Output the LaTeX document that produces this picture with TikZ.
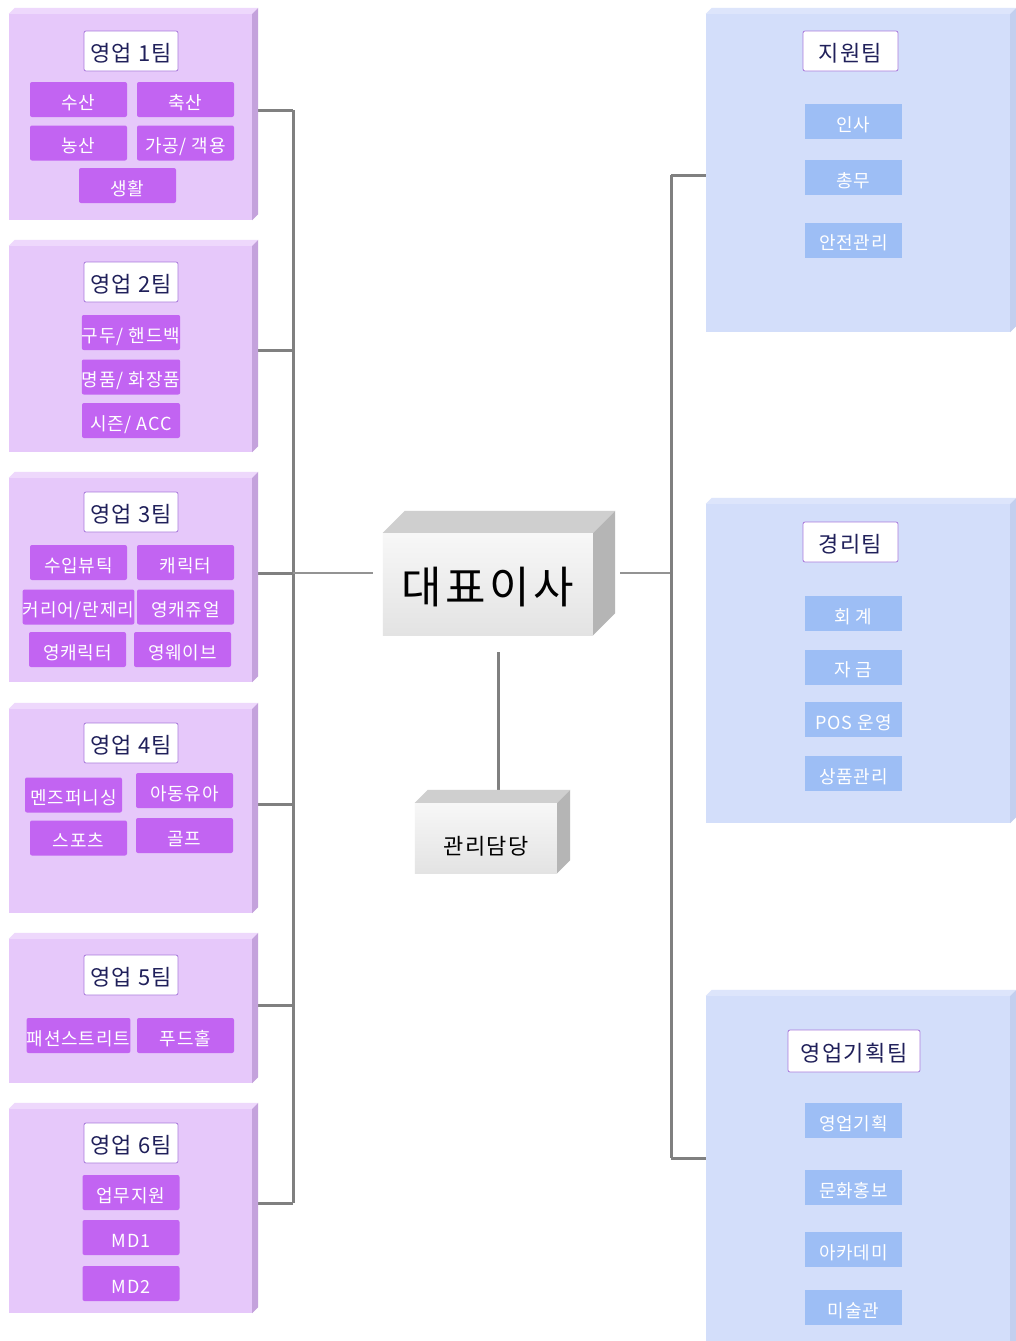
\documentclass[tikz,border=0pt]{standalone}
\usepackage{fontspec}
\setmainfont{Noto Sans CJK KR}
\definecolor{pfront}{HTML}{E6C8FA}
\definecolor{ptop}{HTML}{EED8FC}
\definecolor{pside}{HTML}{C4A2DC}
\definecolor{psub}{HTML}{C264F2}
\definecolor{bfront}{HTML}{D3DEFA}
\definecolor{btop}{HTML}{DDE5FB}
\definecolor{bside}{HTML}{C3CFEF}
\definecolor{bsub}{HTML}{9DBEF5}
\definecolor{ttlborder}{HTML}{A97ADB}
\definecolor{ttltext}{HTML}{20205A}
\definecolor{conncol}{HTML}{808080}
\newcommand\cubefaces[4]{%
  \fill[#3] (#1.north west) -- ++(#2,-#2) -- ([shift={(#2,-#2)}]#1.north east) -- (#1.north east) -- cycle;
  \fill[#4] (#1.north east) -- ++(#2,-#2) -- ([shift={(#2,-#2)}]#1.south east) -- (#1.south east) -- cycle;}
\tikzset{
  teambox/.style={fill=pfront, inner sep=0pt, minimum width=243pt},
  rbox/.style={fill=bfront, inner sep=0pt, minimum width=304pt},
  ttl/.style={fill=white, draw=ttlborder, line width=0.8pt, rounded corners=2pt, text=ttltext,
    font=\fontsize{22}{24}\selectfont\addfontfeatures{LetterSpace=6}, minimum width=94pt, minimum height=40pt, inner sep=0pt,
    text height=21.8pt, text depth=0pt},
  psubbox/.style={fill=psub, rounded corners=2pt, text=white, font=\fontsize{18}{20}\selectfont\addfontfeatures{LetterSpace=5},
    minimum width=97pt, minimum height=35pt, inner sep=0pt, text height=19.5pt, text depth=0pt},
  bsubbox/.style={fill=bsub, text=white, font=\fontsize{18}{20}\selectfont\addfontfeatures{LetterSpace=5},
    minimum width=97pt, minimum height=35pt, inner sep=0pt, text height=19.5pt, text depth=0pt},
  thick conn/.style={draw=conncol, line width=3pt},
  thin conn/.style={draw=conncol!85, line width=1.6pt},
}
\begin{document}
\begin{tikzpicture}[x=1pt, y=-1pt]
\useasboundingbox (0,0) rectangle (1016,1341);
\clip (0,0) rectangle (1016,1341);
\fill[white] (0,0) rectangle (1016,1341);

% ---- nodes for geometry (front faces) ----
\node[teambox, minimum height=206pt] (t1) at (130.5,117) {};
\node[teambox, minimum height=206pt] (t2) at (130.5,349) {};
\node[teambox, minimum height=204pt] (t3) at (130.5,580) {};
\node[teambox, minimum height=204pt] (t4) at (130.5,811) {};
\node[teambox, minimum height=144pt] (t5) at (130.5,1011) {};
\node[teambox, minimum height=204pt] (t6) at (130.5,1211) {};

\node[rbox, minimum height=318pt] (r1) at (858,173) {};
\node[rbox, minimum height=319pt] (r2) at (858,663.5) {};
\node[rbox, minimum height=354pt] (r3) at (858,1173) {};

\node[inner sep=0pt, minimum width=210pt, minimum height=102pt] (ceo) at (488,584) {};
\node[inner sep=0pt, minimum width=142pt, minimum height=70pt] (mgr) at (486,838) {};

% ---- bus coordinates ----
\coordinate (lb1) at (293,110);
\coordinate (lb2) at (293,350);
\coordinate (lb3) at (293,573);
\coordinate (lb4) at (293,804);
\coordinate (lb5) at (293,1005);
\coordinate (lb6) at (293,1203);
\coordinate (rb1) at (671,175);
\coordinate (rb2) at (671,573);
\coordinate (rb3) at (671,1158);

% ---- connectors (drawn below boxes) ----
\draw[thick conn] (lb1) -- (lb6);
\foreach \i in {1,...,6} {\draw[thick conn] (t\i.east |- lb\i) -- (lb\i);}
\draw[thin conn, shorten >=10pt] (lb3) -- (ceo.west |- lb3);
\draw[thin conn, shorten <=27pt] (ceo.east |- rb2) -- (rb2);
\draw[thick conn] (rb1) -- (rb3);
\draw[thick conn] (rb1) -- (r1.west |- rb1);
\draw[thick conn] (rb3) -- (r3.west |- rb3);
\draw[thick conn, shorten <=17pt] ([xshift=10pt]ceo.south) -- ([xshift=12pt]mgr.north);

% ---- redraw boxes with 3D faces ----
\foreach \i in {1,...,6} {
  \fill[pfront] (t\i.north west) rectangle (t\i.south east);
  \cubefaces{t\i}{6}{ptop}{pside}
}
\foreach \i in {1,2,3} {
  \fill[bfront] (r\i.north west) rectangle (r\i.south east);
  \cubefaces{r\i}{6}{btop}{bside}
}
\shade[top color=gray!6, bottom color=gray!22] (ceo.north west) rectangle (ceo.south east);
\cubefaces{ceo}{22}{gray!38}{gray!58}
\node[font=\fontsize{44}{48}\selectfont\addfontfeatures{LetterSpace=8}, text=black, text height=39.4pt, text depth=0pt] (ceotext) at (ceo.center) {대표이사};
\shade[top color=gray!6, bottom color=gray!22] (mgr.north west) rectangle (mgr.south east);
\cubefaces{mgr}{13}{gray!38}{gray!58}
\node[font=\fontsize{22}{24}\selectfont\addfontfeatures{LetterSpace=6}, text=black, text height=32.8pt, text depth=0pt] (mgrtext) at (mgr.center) {관리담당};

% ---- titles ----
\node[ttl] (tt1) at (131,51) {영업 1팀};
\node[ttl] (tt2) at (131,282) {영업 2팀};
\node[ttl] (tt3) at (131,512) {영업 3팀};
\node[ttl] (tt4) at (131,743) {영업 4팀};
\node[ttl] (tt5) at (131,975) {영업 5팀};
\node[ttl] (tt6) at (131,1143) {영업 6팀};
\node[ttl, minimum width=95pt] (rt1) at (850.5,51) {지원팀};
\node[ttl, minimum width=95pt] (rt2) at (850.5,542) {경리팀};
\node[ttl, minimum width=132pt, minimum height=42pt] (rt3) at (854,1051) {영업기획팀};

% ---- team 1 ----
\node[psubbox] (s11) at (78.5,99.5) {수산};
\node[psubbox] (s12) at (185.5,99.5) {축산};
\node[psubbox] (s13) at (78.5,143) {농산};
\node[psubbox] (s14) at (185.5,143) {가공/ 객용};
\node[psubbox] (s15) at (127.5,185.5) {생활};
% ---- team 2 ----
\node[psubbox, minimum width=98pt] (s21) at (131,332.5) {구두/ 핸드백};
\node[psubbox, minimum width=98pt] (s22) at (131,377) {명품/ 화장품};
\node[psubbox, minimum width=98pt] (s23) at (131,420.5) {시즌/ ACC};
% ---- team 3 ----
\node[psubbox] (s31) at (78.5,562.5) {수입뷰틱};
\node[psubbox] (s32) at (185.5,562.5) {캐릭터};
\node[psubbox] (s33) at (78.5,607) {커리어/란제리};
\node[psubbox] (s34) at (185.5,607) {영캐쥬얼};
\node[psubbox] (s35) at (77.5,649.5) {영캐릭터};
\node[psubbox] (s36) at (182.5,649.5) {영웨이브};
% ---- team 4 ----
\node[psubbox] (s41) at (73.5,795) {멘즈퍼니싱};
\node[psubbox] (s42) at (184.5,790.5) {아동유아};
\node[psubbox] (s43) at (78.5,838) {스포츠};
\node[psubbox] (s44) at (184.5,835.5) {골프};
% ---- team 5 ----
\node[psubbox] (s51) at (78.5,1035.5) {패션스트리트};
\node[psubbox] (s52) at (185.5,1035.5) {푸드홀};
% ---- team 6 ----
\node[psubbox] (s61) at (131,1192.5) {업무지원};
\node[psubbox] (s62) at (131,1237.5) {MD1};
\node[psubbox] (s63) at (131,1283.5) {MD2};

% ---- right teams ----
\node[bsubbox] (b11) at (853.5,121.5) {인사};
\node[bsubbox] (b12) at (853.5,177.5) {총무};
\node[bsubbox] (b13) at (853.5,240) {안전관리};
\node[bsubbox] (b21) at (853.5,613.5) {회 계};
\node[bsubbox] (b22) at (853.5,667) {자 금};
\node[bsubbox] (b23) at (853.5,719.5) {POS 운영};
\node[bsubbox] (b24) at (853.5,773.5) {상품관리};
\node[bsubbox] (b31) at (853.5,1120.5) {영업기획};
\node[bsubbox] (b32) at (853.5,1187.5) {문화홍보};
\node[bsubbox] (b33) at (853.5,1249.5) {아카데미};
\node[bsubbox] (b34) at (853.5,1307.5) {미술관};
\end{tikzpicture}
\end{document}
